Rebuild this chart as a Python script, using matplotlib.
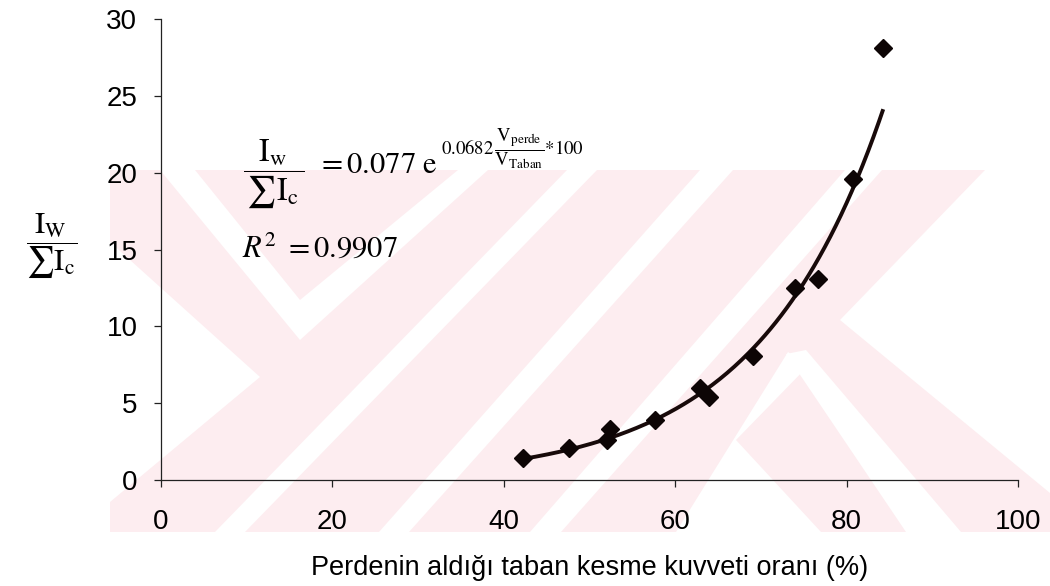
"""Perde / taban kesme kuvveti orani ile Iw/sum(Ic) iliskisi."""

import matplotlib
matplotlib.use("Agg")
import matplotlib.pyplot as plt
import numpy as np
from matplotlib.patches import Polygon

plt.rcParams["font.family"] = "Liberation Sans"
plt.rcParams["mathtext.fontset"] = "stix"

# olculen noktalar
perde_orani = [42.2, 47.6, 52.4, 52.1, 57.6, 62.9, 63.9, 69.1, 74.0, 76.7, 80.7, 84.2]
iw_oran = [1.4, 2.1, 3.3, 2.6, 3.9, 6.0, 5.4, 8.1, 12.5, 13.1, 19.6, 28.1]

# ustel egilim: y = a * exp(b * x)
fit_a = 0.077
fit_b = 0.0682
r_kare = 0.9907

x_ticks = [0, 20, 40, 60, 80, 100]
y_ticks = [0, 5, 10, 15, 20, 25, 30]

W, H = 1050, 586
PEMBE = "#fdedf0"

fig = plt.figure(figsize=(W / 100, H / 100), dpi=100)

# arka plandaki soluk filigran (piksel koordinatlari)
bg = fig.add_axes([0, 0, 1, 1], zorder=0)
bg.set_xlim(0, W)
bg.set_ylim(H, 0)
bg.axis("off")
taban = [(110, 170), (985, 170), (840, 320), (1050, 493), (1050, 532), (110, 532)]
bg.add_patch(Polygon(taban, closed=True, facecolor=PEMBE, edgecolor="none"))
bosluklar = [
    [(160, 170), (195, 170), (300, 300), (458, 170), (488, 170), (300, 340)],
    [(110, 242), (260, 377), (110, 502)],
    [(567, 170), (597, 170), (245, 532), (215, 532)],
    [(700, 170), (733, 170), (409, 532), (379, 532)],
    [(845, 170), (882, 170), (561, 532), (530, 532)],
    [(676, 532), (788, 352), (808, 366), (736, 440), (821, 532)],
    [(786, 354), (806, 350), (961, 532), (906, 532)],
]
for poly in bosluklar:
    bg.add_patch(Polygon(poly, closed=True, facecolor="white", edgecolor="none"))

# denklem ve eksen basligi (kesirli ifadeler)
bg.text(52, 246, r"$\dfrac{\;\mathrm{I}_{\mathrm{W}}\;}{\sum\mathrm{I}_{\mathrm{c}}}$",
        fontsize=22, ha="center", va="center")
bg.text(274, 174, r"$\dfrac{\mathrm{I}_{\mathrm{w}}}{\,\sum\mathrm{I}_{\mathrm{c}}\,}$",
        fontsize=23, ha="center", va="center")
bg.text(317, 173, r"$=0.077\ \mathrm{e}$", fontsize=22, ha="left", va="baseline")
bg.text(441, 149,
        r"$0.0682\,\dfrac{\mathrm{V}_{\mathrm{perde}}}{\mathrm{V}_{\mathrm{Taban}}}{*}100$",
        fontsize=13.5, ha="left", va="center")
bg.text(242, 257, r"$R^{2}\ = %.4f$" % r_kare, fontsize=22, ha="left", va="baseline")

ax = fig.add_axes([161 / W, 1 - 480 / H, 857 / W, 461 / H], zorder=1)
ax.patch.set_alpha(0)

xs = np.linspace(min(perde_orani), max(perde_orani), 200)
ax.plot(xs, fit_a * np.exp(fit_b * xs), color="#180a0a", linewidth=2.8, zorder=2)
ax.plot(perde_orani, iw_oran, linestyle="none", marker="D", markersize=9,
        color="#0d0505", zorder=3)

ax.set_xlim(0, 100)
ax.set_ylim(0, 30)
ax.set_xticks(x_ticks)
ax.set_yticks(y_ticks)
ax.tick_params(labelsize=20, length=5, width=0.9, color="#222222")
ax.tick_params(axis="x", pad=16)
ax.tick_params(axis="y", pad=12)
for s in ["top", "right"]:
    ax.spines[s].set_visible(False)
for s in ["left", "bottom"]:
    ax.spines[s].set_linewidth(0.9)
    ax.spines[s].set_color("#222222")

ax.set_xlabel("Perdenin aldığı taban kesme kuvveti oranı (%)", fontsize=19.5, labelpad=14)

fig.savefig("out.png", dpi=100)
